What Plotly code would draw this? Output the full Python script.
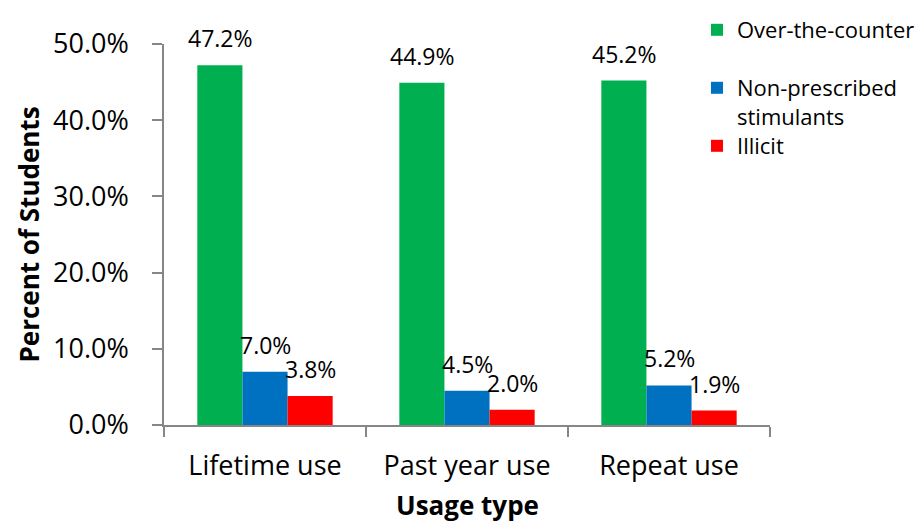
import plotly.graph_objects as go

categories = ["Lifetime use", "Past year use", "Repeat use"]
series_names = ["Over-the-counter", "Non-prescribed<br>stimulants", "Illicit"]
otc = [0.472, 0.449, 0.452]
nonpres = [0.070, 0.045, 0.052]
illicit = [0.038, 0.020, 0.019]
colors = ["#00B050", "#0070C0", "#FF0000"]
y_ticks = [0.0, 0.1, 0.2, 0.3, 0.4, 0.5]

FONT = "Open Sans"
values = [otc, nonpres, illicit]
legends = ["legend", "legend2", "legend3"]

fig = go.Figure()
for name, vals, col, lg in zip(series_names, values, colors, legends):
    fig.add_trace(go.Bar(x=categories, y=vals, name=name, marker_color=col,
                         marker_line_width=0, legend=lg, showlegend=True))

# data labels
bar_px = 45
for i, vals in enumerate(values):
    for c, v in zip(categories, vals):
        fig.add_annotation(x=c, y=v, text=f"{v*100:.1f}%", showarrow=False,
                           xshift=(i - 1) * bar_px, yshift=27, yanchor="middle",
                           font=dict(family=FONT, size=23, color="#000"))

fig.add_annotation(text="<b>Percent of Students</b>", xref="paper", yref="paper",
                   x=-(164 - 28) / 606, y=0.5, textangle=-90, showarrow=False,
                   xanchor="center", yanchor="middle",
                   font=dict(family=FONT, size=26, color="#000"))
fig.add_annotation(text="<b>Usage type</b>", xref="paper", yref="paper",
                   x=0.5, y=-(505 - 425) / 381, showarrow=False,
                   xanchor="center", yanchor="middle",
                   font=dict(family=FONT, size=26, color="#000"))

axis_gray = "#868686"
leg_common = dict(xref="container", yref="container", xanchor="left", yanchor="top",
                  font=dict(size=22), valign="top", bgcolor="rgba(0,0,0,0)")
fig.update_layout(
    width=924, height=524,
    showlegend=True,
    margin=dict(l=164, r=154, t=44, b=99, autoexpand=False),
    paper_bgcolor="white", plot_bgcolor="white",
    barmode="group", bargap=0.33, bargroupgap=0,
    font=dict(family=FONT, color="#000"),
    legend=dict(x=697/924, y=1-9/524, **leg_common),
    legend2=dict(x=697/924, y=1-67/524, **leg_common),
    legend3=dict(x=697/924, y=1-125/524, **leg_common),
    xaxis=dict(type="category", showline=True, linecolor=axis_gray, linewidth=1.5,
               ticks="outside", tickson="boundaries", ticklen=10, tickcolor=axis_gray,
               tickwidth=1.5, showgrid=False, tickfont=dict(size=27), tickangle=0,
               ticklabelstandoff=16, automargin=False),
    yaxis=dict(range=[0, 0.5], tickvals=y_ticks, tickformat=".1%", showline=True,
               linecolor=axis_gray, linewidth=1.5, ticks="outside", ticklen=10,
               tickcolor=axis_gray, tickwidth=1.5, showgrid=False, zeroline=False,
               tickfont=dict(size=27), ticklabelstandoff=18, automargin=False),
)

fig.write_html("out.html")
